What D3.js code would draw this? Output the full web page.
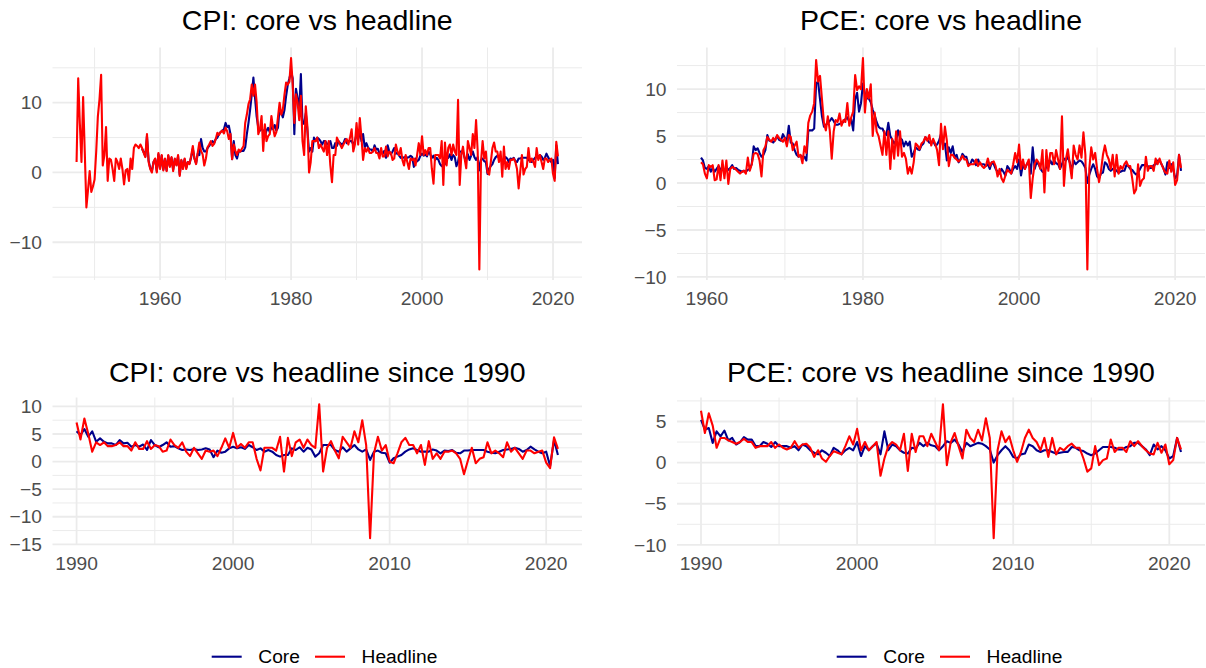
<!DOCTYPE html>
<html>
<head>
<meta charset="utf-8">
<script src="https://cdn.jsdelivr.net/npm/d3@7"></script>
<style>
  body { margin: 0; background: #fff; }
  svg { display: block; }
  text { font-family: "Liberation Sans", Arial, Helvetica, sans-serif; }
</style>
</head>
<body>
<div id="chart"></div>
<script>
// quarterly inflation, annualised %, one row per year
var cpiHeadlineStart = 1947.25;
var cpiHeadline = [
  1.5, 13.5, 7.0,
  1.5, 10.8, 3.0, -5.0,
  -2.5, 0.2, -2.8, -2.0,
  -1.0, 3.0, 8.0, 10.5,
  14.0, 1.0, 2.5, 6.5,
  -1.2, 2.0, 1.8, 0.5,
  -1.2, 2.0, 1.5, 0.5,
  2.0, 0.5, -1.7, 0.3,
  0.5, -1.2, 2.0, 0.5,
  3.5, 4.0, 3.8, 3.5,
  4.0, 3.5, 2.8, 2.2,
  5.5, 1.5, 0.5, 0.0,
  1.5, 2.0, 0.0, 2.8,
  0.5, 2.5, 0.3, 2.0,     // 1960
  0.2, 2.5, 0.8, 2.2,
  0.2, 2.0, 1.0, 2.5,
  -0.5, 1.8, 0.5, 2.0,
  0.5, 1.5, 1.2, 2.4,
  3.8, 2.0, 1.2, 2.8,
  4.3, 3.1, 2.6, 1.0,
  2.0, 3.6, 4.0, 4.5,
  3.8, 4.1, 4.8, 5.7,
  5.4, 5.8, 6.0, 5.6,
  6.4, 5.9, 4.8, 5.5,     // 1970
  1.9, 4.0, 3.1, 2.5,
  3.3, 3.0, 3.4, 3.8,
  7.1, 8.3, 9.8, 10.5,
  12.6, 11.0, 12.6, 10.0,
  5.5, 6.2, 8.1, 3.1,
  6.9, 4.5, 5.2, 5.5,
  8.1, 6.4, 5.2, 5.8,
  7.9, 10.0, 8.3, 9.0,
  11.2, 12.9, 12.6, 13.0,
  16.4, 12.6, 7.1, 11.2,  // 1980
  10.0, 7.5, 11.0, 4.5,
  2.5, 9.5, 6.5, 0.0,
  1.5, 4.5, 4.5, 4.5,
  5.0, 3.5, 4.0, 3.5,
  3.0, 4.5, 2.5, 4.5,
  1.0, -1.4, 2.5, 2.5,
  5.0, 4.5, 4.0, 3.5,
  4.0, 4.5, 4.8, 4.0,
  5.0, 6.2, 3.0, 4.0,
  7.1, 4.0, 7.8, 5.0,     // 1990
  1.8, 3.5, 3.0, 3.5,
  2.8, 2.8, 3.0, 3.5,
  2.8, 2.8, 2.0, 3.5,
  2.3, 2.3, 3.7, 2.3,
  3.0, 2.8, 1.8, 2.0,
  4.0, 3.0, 2.5, 3.5,
  1.8, 1.0, 2.5, 1.5,
  0.5, 2.0, 1.8, 2.0,
  1.0, 2.5, 4.2, 2.5,
  5.2, 2.5, 3.2, 2.5,     // 2000
  3.5, 3.5, 0.5, -1.6,
  2.5, 2.5, 2.5, 2.0,
  4.5, -1.8, 4.3, 1.0,
  3.5, 4.0, 2.5, 4.0,
  3.0, 2.5, 10.4, -1.8,
  2.5, 3.7, 2.0, 0.6,
  4.5, 3.5, 2.5, 5.5,
  3.5, 7.5, 3.0, -13.9,
  1.5, 4.5, 2.0, 3.0,
  0.0, -0.3, 1.5, 3.5,    // 2010
  4.3, 3.0, 3.0, 1.5,
  3.0, -0.6, 3.7, 0.5,
  1.5, 0.5, 1.8, 1.8,
  2.0, 1.5, 0.5, -2.3,
  0.2, 2.5, -0.3, 0.5,
  0.8, 3.5, 1.5, 2.0,
  1.5, 0.8, 3.5, 1.8,
  2.5, 1.5, 0.5, 2.0,
  2.0, 1.5, 1.8, 2.0,
  -0.2, -1.2, 4.4, 2.3    // 2020
];

var cpiCoreStart = 1957.25;
var cpiCore = [
  3.4, 2.9, 2.3,
  5.2, 1.7, 0.6, 0.2,
  1.5, 1.9, 0.2, 2.6,
  0.6, 2.4, 0.4, 1.9,     // 1960
  0.3, 2.4, 0.9, 2.1,
  0.4, 1.9, 1.1, 2.3,
  -0.3, 1.7, 0.7, 1.9,
  0.7, 1.5, 1.3, 2.2,
  3.4, 2.0, 1.3, 2.7,
  2.5, 4.8, 3.5, 3.0,
  3.0, 3.5, 3.8, 4.2,
  4.5, 4.2, 4.8, 5.0,
  5.5, 5.8, 6.0, 6.2,
  7.1, 6.5, 6.7, 5.5,     // 1970
  1.9, 4.5, 2.5, 2.0,
  3.0, 3.0, 3.1, 3.1,
  3.6, 5.5, 7.1, 9.0,
  11.2, 13.6, 10.7, 8.0,
  6.4, 6.0, 6.3, 6.0,
  5.2, 6.0, 6.4, 5.8,
  6.5, 6.2, 6.8, 6.0,
  6.4, 9.3, 8.5, 7.9,
  9.0, 11.0, 12.6, 13.5,
  14.5, 13.5, 5.5, 12.0,  // 1980
  10.7, 9.0, 14.1, 7.0,
  7.0, 8.5, 6.0, 3.0,
  3.5, 3.0, 5.0, 4.5,
  5.0, 4.8, 4.5, 4.0,
  4.5, 4.5, 4.0, 4.2,
  4.5, 3.5, 3.5, 4.2,
  3.8, 4.5, 4.2, 4.0,
  4.2, 4.8, 4.2, 4.5,
  4.5, 4.5, 4.0, 4.5,
  5.5, 4.8, 5.9, 4.5,     // 1990
  5.5, 3.6, 4.2, 3.6,
  3.3, 3.3, 3.0, 3.9,
  3.3, 3.4, 2.7, 3.0,
  2.7, 3.1, 2.1, 3.9,
  3.0, 2.6, 3.0, 3.5,
  2.7, 2.8, 2.4, 2.1,
  2.2, 2.1, 2.3, 2.1,
  2.2, 2.4, 2.2, 0.8,
  2.0, 1.6, 1.8, 2.4,
  2.7, 2.4, 2.6, 2.3,     // 2000
  3.0, 2.6, 2.1, 2.4,
  1.8, 2.1, 1.8, 1.2,
  0.9, 1.2, 1.2, 2.4,
  2.1, 2.6, 1.8, 2.5,
  2.2, 0.9, 1.5, 3.0,
  3.0, 3.0, 2.1, 1.8,
  2.6, 1.8, 2.4, 3.0,
  2.2, 1.8, 2.2, 0.3,
  1.8, 2.0, 1.6, 1.5,
  -0.2, 0.6, 0.9, 1.2,    // 2010
  1.8, 2.2, 2.4, 2.1,
  1.8, 1.8, 1.8, 2.2,
  2.0, 1.5, 2.0, 1.9,
  2.1, 1.6, 1.5, 2.0,
  2.0, 2.1, 2.1, 2.1,
  2.1, 1.8, 1.6, 1.5,
  1.8, 2.1, 2.2, 2.3,
  2.5, 2.3, 1.8, 2.1,
  2.7, 2.2, 1.8, 1.5,
  1.8, -0.8, 3.9, 1.2     // 2020
];

var pceHeadlineStart = 1959.25;
var pceHeadline = [
  2.2, 2.0, 1.0,
  0.5, 1.9, 1.7, 1.9,     // 1960
  0.3, 0.4, 1.9, 0.3,
  2.4, 0.5, 2.4, -0.1,
  1.5, 1.7, 1.6, 1.4,
  1.2, 1.0, 1.2, 1.3,
  1.0, 2.7, 1.3, 2.0,
  3.1, 3.2, 3.1, 2.4,
  0.7, 3.5, 3.9, 4.9,
  4.6, 4.4, 4.8, 4.5,
  5.1, 4.8, 4.6, 4.4,
  4.8, 3.9, 5.1, 4.9,     // 1970
  3.5, 4.0, 4.4, 2.8,
  3.0, 2.1, 3.9, 3.2,
  6.4, 7.2, 7.6, 8.5,
  13.1, 10.8, 11.4, 8.9,
  6.4, 5.6, 7.1, 5.6,
  2.6, 5.5, 6.7, 6.5,
  7.4, 6.1, 6.7, 6.5,
  8.5, 6.1, 7.0, 7.6,
  11.5, 9.9, 10.3, 10.0,
  13.3, 7.5, 10.0, 9.0,   // 1980
  10.5, 5.0, 7.5, 5.5,
  5.0, 4.0, 3.0, 5.5,
  3.0, 5.5, 1.5, 4.7,
  2.6, 5.5, 2.9, 5.5,
  2.8, 3.2, 2.6, 1.0,
  1.7, 1.0, 2.2, 4.2,
  4.0, 3.6, 4.2, 4.4,
  4.9, 4.5, 5.1, 4.0,
  4.7, 4.2, 3.5, 1.9,
  6.3, 3.6, 6.0, 4.5,     // 1990
  1.8, 3.0, 3.0, 2.7,
  2.5, 2.3, 2.5, 2.9,
  2.5, 2.5, 1.8, 2.0,
  2.0, 2.0, 2.5, 1.8,
  2.2, 1.8, 1.6, 1.8,
  2.6, 1.8, 2.2, 2.3,
  1.8, 0.7, 1.5, 0.5,
  0.1, 0.8, 1.4, 1.2,
  1.0, 2.0, 3.2, 2.2,
  4.1, 1.5, 2.5, 1.5,     // 2000
  2.0, 2.5, -1.6, 0.5,
  2.0, 2.5, 2.2, 1.5,
  3.5, -1.0, 3.5, 1.3,
  3.2, 3.2, 2.0, 3.5,
  2.5, 1.5, 7.1, -0.3,
  2.5, 3.6, 2.0, 0.5,
  4.0, 3.0, 2.5, 4.0,
  2.7, 5.4, 3.0, -9.2,
  1.5, 3.8, 2.5, 3.2,
  1.5, 0.1, 1.3, 3.0,     // 2010
  4.0, 3.0, 2.5, 1.5,
  3.0, 0.7, 3.0, 1.0,
  1.8, 1.5, 2.0, 2.3,
  1.8, 1.8, 0.5, -1.1,
  -0.7, 2.0, -0.3, 0.3,
  0.5, 2.8, 1.3, 1.8,
  1.8, 1.3, 2.6, 2.0,
  2.6, 2.0, 1.5, 1.1,
  1.0, 2.4, 1.2, 2.2,
  -0.2, 0.3, 3.0, 1.6     // 2020
];

var pceCoreStart = 1959.25;
var pceCore = [
  2.7, 2.4, 1.6,
  1.5, 1.8, 1.2, 1.6,     // 1960
  1.2, 1.5, 1.8, 1.4,
  1.5, 1.2, 1.6, 1.4,
  1.6, 1.9, 1.5, 1.6,
  1.4, 1.3, 1.2, 1.3,
  1.2, 1.4, 1.5, 2.0,
  3.9, 3.5, 3.7, 3.2,
  2.8, 3.0, 3.5, 5.1,
  4.5, 4.5, 4.3, 4.6,
  5.0, 4.6, 4.5, 5.2,
  4.8, 4.5, 6.1, 4.3,     // 1970
  4.2, 3.5, 3.0, 2.8,
  2.9, 2.8, 2.8, 2.4,
  5.6, 5.6, 5.6, 5.8,
  10.6, 10.8, 8.9, 7.1,
  6.0, 6.2, 6.4, 6.6,
  6.9, 6.6, 6.2, 6.2,
  6.3, 6.4, 6.5, 6.8,
  7.0, 6.5, 6.8, 5.6,
  8.9, 9.6, 7.6, 8.5,
  10.6, 9.5, 9.0, 9.0,    // 1980
  8.6, 7.8, 7.2, 6.5,
  6.0, 5.8, 5.8, 5.3,
  5.1, 6.4, 5.0, 4.6,
  4.2, 4.5, 5.6, 4.8,
  4.6, 3.9, 4.4, 4.0,
  4.4, 2.8, 3.2, 3.8,
  3.6, 3.5, 4.0, 4.2,
  4.9, 4.6, 4.3, 4.3,
  4.5, 4.0, 4.1, 4.5,
  5.2, 4.0, 4.2, 2.4,     // 1990
  3.8, 3.2, 3.9, 2.7,
  3.0, 2.2, 2.5, 3.1,
  2.8, 2.8, 2.0, 2.0,
  2.5, 2.3, 1.9, 2.5,
  2.0, 2.0, 2.0, 1.8,
  2.0, 1.5, 2.2, 2.0,
  1.5, 1.2, 1.0, 1.5,
  1.2, 0.8, 1.8, 1.5,
  1.0, 1.5, 1.8, 1.5,
  2.5, 0.8, 2.0, 1.5,     // 2000
  2.0, 2.3, 1.0, 3.8,
  1.5, 2.2, 2.0, 1.5,
  1.2, 1.1, 1.8, 1.7,
  2.4, 2.0, 2.4, 2.1,
  2.0, 1.5, 2.0, 2.6,
  2.4, 2.8, 2.2, 1.3,
  2.4, 2.0, 2.2, 2.4,
  2.3, 2.0, 1.6, 0.0,
  0.9, 1.5, 2.0, 1.5,
  0.7, 0.5, 1.0, 1.1,     // 2010
  2.2, 2.0, 1.5, 1.3,
  1.5, 1.5, 1.3, 1.1,
  1.2, 1.3, 1.3, 1.9,
  1.8, 1.5, 1.4, 1.1,
  0.9, 1.1, 1.5, 1.9,
  1.9, 1.9, 1.8, 1.6,
  1.6, 1.9, 2.0, 2.4,
  2.4, 2.0, 1.6, 0.9,
  2.2, 1.6, 2.0, 1.5,
  0.5, 0.8, 3.0, 1.3      // 2020
];

var panelTitles = [
  "CPI: core vs headline",
  "PCE: core vs headline",
  "CPI: core vs headline since 1990",
  "PCE: core vs headline since 1990"
];
var xTicksAll = [1960, 1980, 2000, 2020];
var xMinorAll = [1950, 1970, 1990, 2010];
var xTicks1990 = [1990, 2000, 2010, 2020];
var xMinor1990 = [1995, 2005, 2015];
var yTicksCpiAll = [-10, 0, 10];
var yMinorCpiAll = [-15, -5, 5, 15];
var yTicksPceAll = [-10, -5, 0, 5, 10];
var yMinorPceAll = [-7.5, -2.5, 2.5, 7.5, 12.5];
var yTicksCpi1990 = [-15, -10, -5, 0, 5, 10];
var yMinorCpi1990 = [-12.5, -7.5, -2.5, 2.5, 7.5];
var yTicksPce1990 = [-10, -5, 0, 5];
var yMinorPce1990 = [-7.5, -2.5, 2.5, 7.5];
var seriesNames = ["Core", "Headline"];
var seriesColors = ["#00008B", "#FF0000"];

function init() {
  var w = 1206, h = 668;
  var gridCol = "#EBEBEB";
  var tickCol = "#4D4D4D";

  var svg = d3.select("#chart").append("svg")
    .attr("width", w)
    .attr("height", h);

  function toPoints(vals, start, from) {
    return vals.map(function (v, i) {
      return { t: start + i / 4, v: v };
    }).filter(function (d) { return d.t >= from; });
  }

  function expand(ext) {
    var pad = (ext[1] - ext[0]) * 0.05;
    return [ext[0] - pad, ext[1] + pad];
  }

  function fmt(v) {
    return v < 0 ? "\u2212" + Math.abs(v) : String(v);
  }

  function panel(p) {
    var core = toPoints(p.core, p.coreStart, p.from);
    var head = toPoints(p.head, p.headStart, p.from);
    var all = core.concat(head);

    var x = d3.scaleLinear()
      .domain(expand(d3.extent(all, function (d) { return d.t; })))
      .range([p.x0, p.x1]);
    var y = d3.scaleLinear()
      .domain(expand(d3.extent(all, function (d) { return d.v; })))
      .range([p.y1, p.y0]);

    var g = svg.append("g");
    var xd = x.domain(), yd = y.domain();

    // minor grid
    g.selectAll(".xm").data(p.xMinor.filter(function (d) { return d >= xd[0] && d <= xd[1]; }))
      .enter().append("line")
      .attr("x1", function (d) { return x(d); }).attr("x2", function (d) { return x(d); })
      .attr("y1", p.y0).attr("y2", p.y1)
      .attr("stroke", gridCol).attr("stroke-width", 1);
    g.selectAll(".ym").data(p.yMinor.filter(function (d) { return d >= yd[0] && d <= yd[1]; }))
      .enter().append("line")
      .attr("x1", p.x0).attr("x2", p.x1)
      .attr("y1", function (d) { return y(d); }).attr("y2", function (d) { return y(d); })
      .attr("stroke", gridCol).attr("stroke-width", 1);

    // major grid
    g.selectAll(".xM").data(p.xTicks)
      .enter().append("line")
      .attr("x1", function (d) { return x(d); }).attr("x2", function (d) { return x(d); })
      .attr("y1", p.y0).attr("y2", p.y1)
      .attr("stroke", gridCol).attr("stroke-width", 1.8);
    g.selectAll(".yM").data(p.yTicks)
      .enter().append("line")
      .attr("x1", p.x0).attr("x2", p.x1)
      .attr("y1", function (d) { return y(d); }).attr("y2", function (d) { return y(d); })
      .attr("stroke", gridCol).attr("stroke-width", 1.8);

    // tick labels
    g.selectAll(".xl").data(p.xTicks)
      .enter().append("text")
      .attr("x", function (d) { return x(d); })
      .attr("y", p.y1 + 25)
      .attr("text-anchor", "middle")
      .attr("font-size", 19.2)
      .attr("fill", tickCol)
      .text(function (d) { return d; });
    g.selectAll(".yl").data(p.yTicks)
      .enter().append("text")
      .attr("x", p.x0 - 10.5)
      .attr("y", function (d) { return y(d); })
      .attr("dy", "0.35em")
      .attr("text-anchor", "end")
      .attr("font-size", 19.2)
      .attr("fill", tickCol)
      .text(fmt);

    // lines, headline drawn over core
    var line = d3.line()
      .x(function (d) { return x(d.t); })
      .y(function (d) { return y(d.v); });
    [core, head].forEach(function (s, i) {
      g.append("path")
        .datum(s)
        .attr("d", line)
        .attr("fill", "none")
        .attr("stroke", seriesColors[i])
        .attr("stroke-width", 2.1)
        .attr("stroke-linejoin", "round");
    });

    // title
    g.append("text")
      .attr("x", (p.x0 + p.x1) / 2)
      .attr("y", p.titleY)
      .attr("text-anchor", "middle")
      .attr("font-size", 28.5)
      .attr("fill", "#000")
      .text(p.title);
  }

  var cols = [[52.5, 582], [677, 1205]];
  var rows = [[47.5, 280, 30], [397.5, 545, 382]];

  panel({ x0: cols[0][0], x1: cols[0][1], y0: rows[0][0], y1: rows[0][1], titleY: rows[0][2],
    title: panelTitles[0], core: cpiCore, coreStart: cpiCoreStart, head: cpiHeadline, headStart: cpiHeadlineStart,
    from: 0, xTicks: xTicksAll, xMinor: xMinorAll, yTicks: yTicksCpiAll, yMinor: yMinorCpiAll });
  panel({ x0: cols[1][0], x1: cols[1][1], y0: rows[0][0], y1: rows[0][1], titleY: rows[0][2],
    title: panelTitles[1], core: pceCore, coreStart: pceCoreStart, head: pceHeadline, headStart: pceHeadlineStart,
    from: 0, xTicks: xTicksAll, xMinor: xMinorAll, yTicks: yTicksPceAll, yMinor: yMinorPceAll });
  panel({ x0: cols[0][0], x1: cols[0][1], y0: rows[1][0], y1: rows[1][1], titleY: rows[1][2],
    title: panelTitles[2], core: cpiCore, coreStart: cpiCoreStart, head: cpiHeadline, headStart: cpiHeadlineStart,
    from: 1990, xTicks: xTicks1990, xMinor: xMinor1990, yTicks: yTicksCpi1990, yMinor: yMinorCpi1990 });
  panel({ x0: cols[1][0], x1: cols[1][1], y0: rows[1][0], y1: rows[1][1], titleY: rows[1][2],
    title: panelTitles[3], core: pceCore, coreStart: pceCoreStart, head: pceHeadline, headStart: pceHeadlineStart,
    from: 1990, xTicks: xTicks1990, xMinor: xMinor1990, yTicks: yTicksPce1990, yMinor: yMinorPce1990 });

  // legends, one under each column
  [211.7, 836.7].forEach(function (lx) {
    var lg = svg.append("g").attr("transform", "translate(" + lx + ",656.7)");
    var offs = [0, 103.3];
    seriesNames.forEach(function (name, i) {
      lg.append("line")
        .attr("x1", offs[i]).attr("x2", offs[i] + 30)
        .attr("y1", 0).attr("y2", 0)
        .attr("stroke", seriesColors[i])
        .attr("stroke-width", 2.1);
      lg.append("text")
        .attr("x", offs[i] + 46.6)
        .attr("y", 0)
        .attr("dy", "0.35em")
        .attr("font-size", 19.2)
        .attr("fill", "#000")
        .text(name);
    });
  });
}

window.onload = init;
</script>
</body>
</html>
